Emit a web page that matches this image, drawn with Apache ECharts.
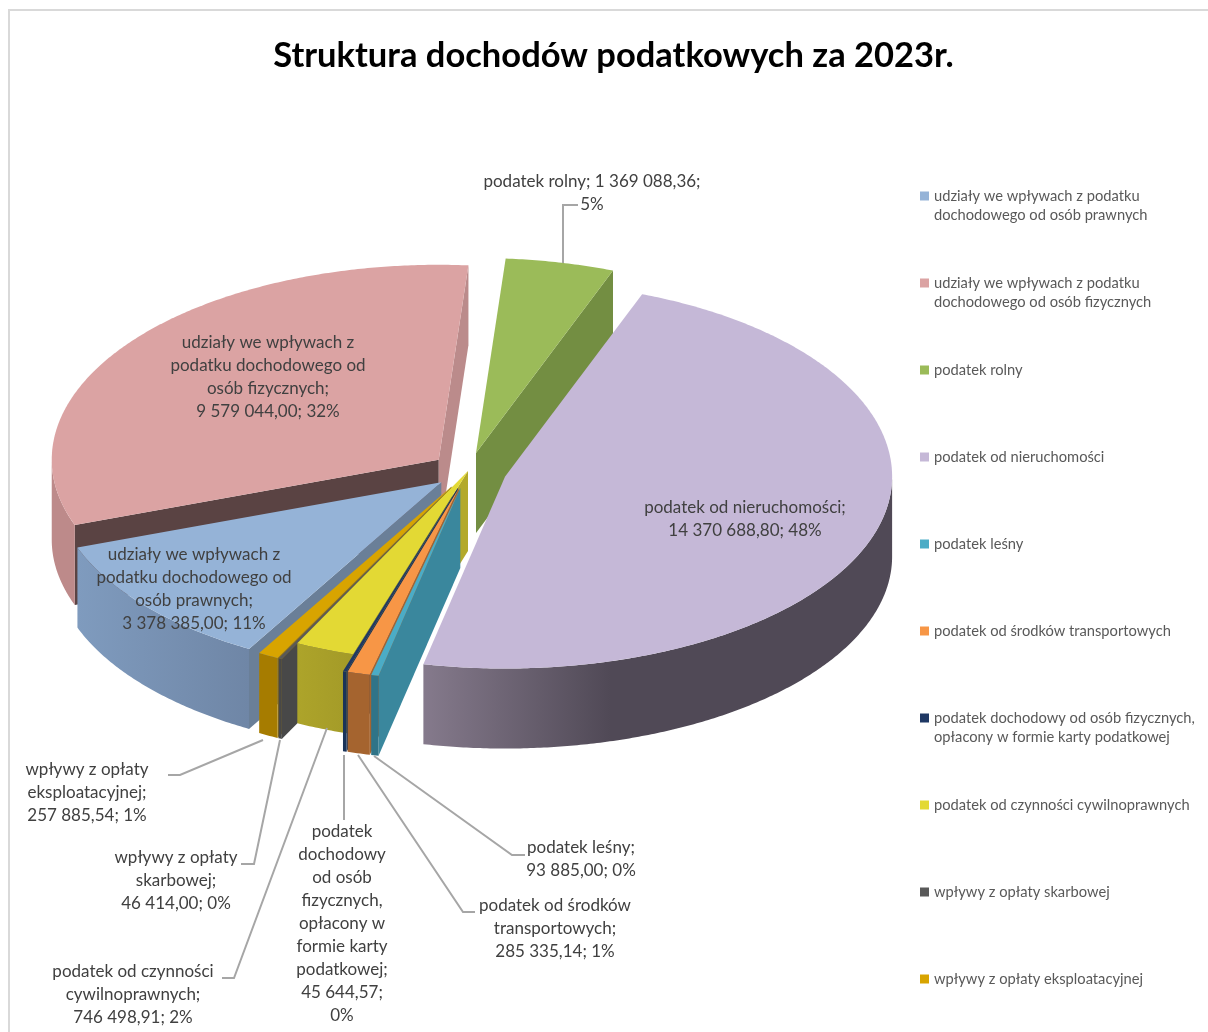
<!DOCTYPE html>
<html><head><meta charset="utf-8">
<style>html,body{margin:0;padding:0;background:#fff}#c{width:1208px;height:1032px}</style>
<script src="https://cdn.jsdelivr.net/npm/echarts@6/dist/echarts.min.js"></script>
</head><body><div id="c"></div>
<script>
const categories = [
  'udziały we wpływach z podatku dochodowego od osób prawnych',
  'udziały we wpływach z podatku dochodowego od osób fizycznych',
  'podatek rolny',
  'podatek od nieruchomości',
  'podatek leśny',
  'podatek od środków transportowych',
  'podatek dochodowy od osób fizycznych, opłacony w formie karty podatkowej',
  'podatek od czynności cywilnoprawnych',
  'wpływy z opłaty skarbowej',
  'wpływy z opłaty eksploatacyjnej'
];
const values = [3378385.00, 9579044.00, 1369088.36, 14370688.80, 93885.00, 285335.14, 45644.57, 746498.91, 46414.00, 257885.54];
const explosion = [0.09, 0.095, 0.095, 0.10, 0.09, 0.09, 0.09, 0, 0.09, 0.09];
const legendLines = [
  ['udziały we wpływach z podatku', 'dochodowego od osób prawnych'],
  ['udziały we wpływach z podatku', 'dochodowego od osób fizycznych'],
  ['podatek rolny'],
  ['podatek od nieruchomości'],
  ['podatek leśny'],
  ['podatek od środków transportowych'],
  ['podatek dochodowy od osób fizycznych,', 'opłacony w formie karty podatkowej'],
  ['podatek od czynności cywilnoprawnych'],
  ['wpływy z opłaty skarbowej'],
  ['wpływy z opłaty eksploatacyjnej']
];
const labelNames = [
  'udziały we wpływach z\npodatku dochodowego od\nosób prawnych;\n',
  'udziały we wpływach z\npodatku dochodowego od\nosób fizycznych;\n',
  'podatek rolny; ',
  'podatek od nieruchomości;\n',
  'podatek leśny;\n',
  'podatek od środków\ntransportowych;\n',
  'podatek\ndochodowy\nod osób\nfizycznych,\nopłacony w\nformie karty\npodatkowej;\n',
  'podatek od czynności\ncywilnoprawnych;\n',
  'wpływy z opłaty\nskarbowej;\n',
  'wpływy z opłaty\neksploatacyjnej;\n'
];
const valuePctSep = [' ', ' ', '\n', ' ', ' ', ' ', '\n', ' ', ' ', ' '];

// palette: top, rim gradient left, rim gradient right, wall at start angle, wall at end angle
const topColors  = ['#95B3D7','#DBA3A3','#9BBB59','#C5B8D7','#4BACC6','#F79646','#1F3864','#E3D934','#595959','#D8A400'];
const rimLeft    = ['#7F9BBE','#BD8A8A','#738E42','#857A8C','#2F7488','#A5642F','#1A3358','#ADA42A','#484848','#A67C00'];
const rimRight   = ['#6F86A6','#BD8A8A','#738E42','#504956','#2F7488','#A5642F','#1A3358','#A39A28','#484848','#A67C00'];
const rimBreak   = [1, 1, 1, 0.4, 1, 1, 1, 1, 1, 1];
const wallStart  = ['#6A7F98','#5A4343','#738E42','#5A5360','#3A879D','#A5642F','#1A3358','#B3A92A','#484848','#A67C00'];
const wallEnd    = ['#6A7F98','#BB8B8B','#738E42','#5A5360','#3A879D','#A5642F','#1A3358','#B3A92A','#484848','#A67C00'];

// layout
const CX = 468, CY = 471, RX = 387, RY_BACK = 195, RY_FRONT = 192, DEPTH = 80, FIRST_ANGLE = 209.8;
const drawOrder = [1, 2, 0, 3, 9, 8, 7, 6, 5, 4];
const labelCenters = [[194,555],[268,343],[592,182],[745,508],[581,848],[555,906],[342,832],[133,972],[176,858],[87,770]];
const leaders = [null,null,
  [[563,263],[563,205],[578,205]],null,
  [[374,756],[512,855],[525,855]],
  [[358,755],[463,912],[475,912]],
  [[344,755],[344,820]],
  [[327,728],[234,978],[222,978]],
  [[280,740],[254,864],[241,864]],
  [[263,740],[180,775],[168,775]]];
const LINE_H = 23;
const LEGEND_Y0 = 196, LEGEND_STEP = 87, LEGEND_LINE = 19;

const total = values.reduce((a, b) => a + b, 0);
const rad = d => d * Math.PI / 180;
const startAngles = [];
values.reduce((acc, v, i) => { startAngles[i] = acc; return acc + v / total * 360; }, FIRST_ANGLE);

function fmt(v) {
  const p = v.toFixed(2).split('.');
  return p[0].replace(/\B(?=(\d{3})+$)/g, ' ') + ',' + p[1];
}
function labelText(i) {
  return labelNames[i] + fmt(values[i]) + ';' + valuePctSep[i] + Math.round(values[i] / total * 100) + '%';
}

function renderSlice(i, v) {
  const span = v / total * 360, a0 = startAngles[i], a1 = a0 + span, mid = a0 + span / 2;
  const ex = explosion[i];
  const ax = CX + ex * RX * Math.sin(rad(mid)), ay = CY - ex * RY_BACK * Math.cos(rad(mid));
  const pt = (a, dz) => {
    const c = Math.cos(rad(a));
    return [ax + RX * Math.sin(rad(a)), ay - (c > 0 ? RY_BACK : RY_FRONT) * c + (dz || 0)];
  };
  const arc = (from, to, dz) => {
    const pts = [], n = Math.max(1, Math.ceil(Math.abs(to - from) * 2));
    for (let k = 0; k <= n; k++) pts.push(pt(from + (to - from) * k / n, dz));
    return pts;
  };
  const children = [];
  const norm = a => ((a % 360) + 360) % 360;
  const poly = (points, fill) => children.push({ type: 'polygon', shape: { points }, style: { fill, stroke: null } });
  // radial walls
  const s0 = norm(a0), s1 = norm(a1);
  const apex = [ax, ay], apexB = [ax, ay + DEPTH];
  if (s0 >= 180) poly([apex, pt(a0), pt(a0, DEPTH), apexB], wallStart[i]);
  if (s1 < 180) poly([apex, pt(a1), pt(a1, DEPTH), apexB], wallEnd[i]);
  // outer rim, front-facing part only (clockwise angles 90..270)
  [[a0, a1], [a0 - 360, a1 - 360], [a0 + 360, a1 + 360]].forEach(([p, q]) => {
    const f = Math.max(p, 90), t = Math.min(q, 270);
    if (t > f) {
      const fill = { type: 'linear', x: 0, y: 0, x2: 1, y2: 0, colorStops: [
        { offset: 0, color: rimLeft[i] }, { offset: rimBreak[i], color: rimRight[i] }, { offset: 1, color: rimRight[i] }] };
      poly(arc(f, t).concat(arc(t, f, DEPTH)), fill);
    }
  });
  // top face
  poly([apex].concat(arc(a0, a1)), topColors[i]);
  return { type: 'group', children };
}

const sliceSeries = drawOrder.map(i => ({
  type: 'custom', name: categories[i], coordinateSystem: 'none', silent: true,
  itemStyle: { color: topColors[i] },
  data: [[values[i]]],
  renderItem: (params, api) => renderSlice(i, api.value(0))
}));

const labelSeries = {
  type: 'custom', coordinateSystem: 'none', silent: true, z: 5,
  data: categories.map((_, i) => [i]),
  renderItem: (params, api) => {
    const i = api.value(0), children = [];
    if (leaders[i]) children.push({ type: 'polyline', shape: { points: leaders[i] }, style: { stroke: '#A6A6A6', lineWidth: 2, fill: null } });
    children.push({ type: 'text', x: labelCenters[i][0], y: labelCenters[i][1] - LINE_H / 2,
      style: { text: labelText(i), fill: '#404040', font: '17px Lato, sans-serif', align: 'center', verticalAlign: 'top', lineHeight: LINE_H } });
    return { type: 'group', children };
  }
};

const legends = categories.map((name, i) => {
  const two = legendLines[i].length > 1;
  // two-line entries get a blank leading line so the icon sits beside the first line
  const text = two ? '\u00a0\n' + legendLines[i].join('\n') : legendLines[i][0];
  return {
    data: [name], left: 920, top: LEGEND_Y0 + LEGEND_STEP * i - LEGEND_LINE * (two ? 1.5 : 0.5),
    orient: 'vertical', padding: 0, itemWidth: 9, itemHeight: 9, icon: 'rect', selectedMode: false,
    formatter: () => text,
    textStyle: { fontFamily: 'Lato, sans-serif', fontSize: 14.7, color: '#595959', lineHeight: LEGEND_LINE }
  };
});

const chart = echarts.init(document.getElementById('c'), null, { renderer: 'canvas' });
chart.setOption({
  animation: false,
  backgroundColor: '#ffffff',
  title: { text: 'Struktura dochodów podatkowych za 2023r.', left: 613.5, top: 38, padding: 0, textAlign: 'center',
    textStyle: { fontFamily: 'Lato, sans-serif', fontWeight: 'bold', fontSize: 34.5, color: '#000000' } },
  legend: legends,
  graphic: [{ type: 'polyline', silent: true, shape: { points: [[9, 1032], [9, 10], [1208, 10]] }, style: { stroke: '#D9D9D9', lineWidth: 2, fill: null } }],
  series: sliceSeries.concat([labelSeries])
});
</script></body></html>
